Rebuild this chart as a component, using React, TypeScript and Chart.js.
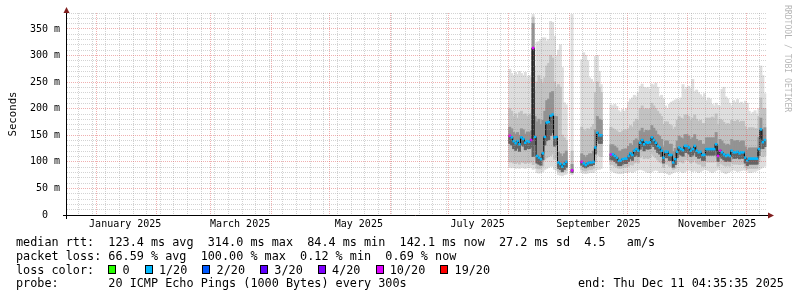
import React, { useEffect, useRef } from "react";
import { Chart, registerables } from "chart.js";

Chart.register(...registerables);

const FONT = "'DejaVu Sans Mono', monospace";

// ---------- time axis: days since 2025-01-01 00:00 ----------
const VIEW_START = -14.9; // ~ 2024-12-17
const VIEW_END = 344.63; // ~ 2025-12-11 (end of graph)
const SERIES_START = 212; // first daily sample: 2025-08-01

const monthLabels = [
  "January 2025",
  "March 2025",
  "May 2025",
  "July 2025",
  "September 2025",
  "November 2025",
];
const labelledMonths = [0, 2, 4, 6, 8, 10];

// ---------- y axis ----------
const Y_MAX = 380;
const Y_MAJOR = 50;
const Y_MINOR = 10;

// ---------- daily series (ms), null = no data ----------
const medianMs = [
  149, 146, 139, 135, 139, 133, 146, 143, 136, 139, 138, 141, 314, 147, 111, 108, 105, 116, 147, 174, 175, 187, 189, 146, 147, 99, 96, 91, 96, 100,
  null, null, 84, null, null, null, null,
  100, 97, 94, 97, 99, 99, 100, 127, 155, 150, 150,
  null, null, null, null,
  114, 114, 111, 108, 102, 102, 105, 106, 106, 111, 116, 113, 121, 124, 121,
  136, 141, 133, 137, 136, 137, 146, 141, 136, 130, 127, 121, 108,
  119, 119, 113, 113, 99, 105, 119, 127, 124, 122, 130, 130, 127, 121, 124, 130,
  121, 118, 119, 113, 113, 124, 124, 124, 124, 124, 133, 111, 121, 118, 114, 111,
  113, 111, 121, 118, 118, 119, 116, 118, 118, 108, 102, 106, 106, 106, 106, 106, 124, 161, 137, 141,
];

const lossPings = [
  10, 1, 1, 1, 1, 1, 1, 1, 1, 1, 1, 10, 10, 1, 1, 1, 1, 1, 1, 1, 1, 1, 1, 1, 1, 1, 1, 1, 1, 1,
  1, 1, 10, 1, 1, 1, 1,
  10, 1, 1, 1, 1, 1, 1, 1, 1, 1, 1,
  1, 1, 1, 1,
  10, 1, 1, 1, 1, 1, 1, 1, 1, 1, 1, 1, 1, 1, 1,
  1, 1, 1, 1, 1, 1, 1, 1, 1, 1, 1, 1, 1,
  1, 1, 1, 1, 1, 1, 1, 1, 1, 1, 1, 1, 1, 1, 1, 1,
  1, 1, 1, 1, 1, 1, 1, 1, 1, 1, 1, 10, 10, 1, 1, 1,
  1, 1, 1, 1, 1, 1, 1, 1, 1, 1, 1, 1, 1, 1, 1, 1, 1, 1, 1, 1,
];

const smokeMax = [
  274, 266, 262, 268, 264, 270, 266, 262, 268, 258, 262, 258, 377, 280, 325, 326, 330, 333, 333, 327, 330, 364, 362, 336, 300, 310, 320, 277, 211, 207,
  null, null, 377, null, null, null, null,
  292, 305, 300, 290, 258, 255, 250, 298, 300, 270, 245,
  null, null, null, null,
  207, 205, 208, 204, 196, 193, 198, 195, 200, 212, 217, 220, 225, 222, 230,
  242, 246, 240, 238, 240, 236, 246, 244, 248, 240, 222, 225, 218,
  205, 200, 208, 212, 214, 216, 218, 215, 220, 245, 236, 240, 242, 238, 255, 232,
  235, 230, 226, 222, 228, 215, 220, 218, 208, 205, 210, 206, 204, 236, 240, 222,
  218, 210, 205, 215, 212, 217, 210, 212, 208, 214, 210, 195, 190, 193, 196, 190, 200, 280, 262, 228,
];

const smokeHigh = [
  200, 195, 185, 190, 182, 192, 195, 188, 190, 185, 188, 190, 372, 235, 250, 262, 255, 248, 258, 280, 285, 300, 295, 250, 240, 245, 240, 150, 145, 140,
  null, null, 120, null, null, null, null,
  165, 160, 158, 162, 160, 165, 170, 230, 250, 240, 230,
  null, null, null, null,
  165, 162, 160, 158, 155, 155, 158, 160, 160, 162, 168, 165, 175, 180, 178,
  200, 205, 198, 200, 198, 200, 210, 205, 200, 195, 190, 185, 170,
  175, 175, 170, 168, 160, 165, 178, 185, 182, 180, 188, 188, 185, 178, 182, 188,
  180, 176, 178, 172, 172, 182, 182, 182, 184, 182, 190, 170, 180, 178, 174, 170,
  172, 170, 178, 176, 176, 178, 174, 176, 176, 166, 160, 164, 164, 164, 162, 162, 185, 220, 200, 200,
];

const coreHigh = [
  165, 162, 155, 152, 155, 150, 162, 160, 152, 156, 155, 158, 360, 185, 175, 180, 170, 178, 195, 215, 218, 230, 232, 185, 185, 118, 115, 110, 115, 120,
  null, null, 95, null, null, null, null,
  115, 112, 108, 112, 115, 115, 120, 160, 185, 180, 178,
  null, null, null, null,
  132, 132, 129, 126, 120, 120, 123, 124, 124, 129, 134, 131, 140, 143, 140,
  158, 163, 155, 159, 158, 159, 168, 163, 158, 151, 148, 142, 128,
  139, 139, 133, 133, 119, 125, 139, 148, 145, 143, 151, 151, 148, 142, 145, 151,
  142, 139, 140, 133, 133, 145, 145, 145, 145, 145, 155, 131, 142, 139, 134, 131,
  133, 131, 142, 139, 139, 140, 137, 139, 139, 128, 122, 126, 126, 126, 126, 126, 146, 182, 160, 164,
];

const coreLow = [
  135, 132, 125, 122, 126, 120, 132, 130, 123, 126, 125, 128, 110, 132, 98, 96, 94, 104, 132, 140, 142, 150, 155, 130, 132, 88, 86, 82, 86, 90,
  null, null, 80, null, null, null, null,
  94, 91, 89, 91, 93, 93, 95, 115, 140, 135, 135,
  null, null, null, null,
  104, 104, 101, 98, 93, 93, 96, 97, 97, 101, 106, 103, 110, 113, 110,
  124, 129, 121, 125, 124, 125, 133, 129, 124, 118, 115, 110, 98,
  108, 108, 103, 103, 90, 95, 108, 115, 113, 111, 118, 118, 115, 110, 113, 118,
  110, 107, 108, 103, 103, 113, 113, 113, 113, 113, 121, 101, 110, 107, 104, 101,
  103, 101, 110, 107, 107, 108, 106, 107, 107, 98, 93, 96, 96, 96, 96, 96, 112, 145, 125, 129,
];

const smokeLow = [
  100, 100, 98, 97, 99, 96, 100, 99, 97, 99, 98, 100, 95, 105, 88, 87, 88, 92, 105, 108, 110, 112, 115, 105, 108, 82, 81, 80, 82, 84,
  null, null, 79, null, null, null, null,
  86, 84, 83, 85, 86, 86, 88, 100, 115, 112, 110,
  null, null, null, null,
  95, 95, 92, 90, 88, 88, 89, 90, 90, 92, 95, 94, 98, 100, 98,
  108, 112, 106, 108, 106, 108, 115, 112, 108, 104, 100, 98, 90,
  96, 96, 92, 92, 86, 88, 96, 102, 100, 98, 104, 104, 102, 98, 100, 104,
  98, 96, 96, 92, 92, 100, 100, 100, 100, 100, 106, 92, 98, 96, 94, 92,
  94, 92, 98, 96, 96, 96, 95, 96, 96, 90, 87, 88, 88, 88, 88, 88, 100, 120, 110, 112,
];

const smokeMin = [
  90, 89, 90, 88, 89, 88, 90, 89, 88, 90, 89, 90, 86, 88, 80, 79, 80, 82, 86, 88, 90, 92, 92, 86, 84, 76, 75, 74, 76, 77,
  null, null, 76, null, null, null, null,
  80, 79, 78, 79, 80, 80, 80, 84, 86, 86, 88,
  null, null, null, null,
  84, 82, 80, 79, 78, 78, 79, 80, 80, 81, 82, 80, 82, 84, 85,
  86, 85, 84, 82, 80, 80, 82, 84, 85, 84, 80, 82, 80,
  80, 78, 76, 78, 80, 82, 82, 84, 82, 80, 82, 84, 85, 84, 82, 84,
  82, 80, 82, 84, 86, 85, 84, 82, 80, 82, 84, 86, 85, 82, 80, 78,
  80, 82, 84, 85, 84, 82, 83, 84, 85, 84, 84, 80, 80, 82, 82, 84, 86, 88, 90, 92,
];

// ---------- legend ----------
const rttLine = "median rtt:  123.4 ms avg  314.0 ms max  84.4 ms min  142.1 ms now  27.2 ms sd  4.5   am/s";
const lossLine = "packet loss: 66.59 % avg  100.00 % max  0.12 % min  0.69 % now";
const lossColorTitle = "loss color:";
const lossLegendLabels = ["0", "1/20", "2/20", "3/20", "4/20", "10/20", "19/20"];
const lossLegendPings = [0, 1, 2, 3, 4, 10, 19];
const probeLine = "probe:       20 ICMP Echo Pings (1000 Bytes) every 300s";
const endLine = "end: Thu Dec 11 04:35:35 2025";
const yTitle = "Seconds";
const watermark = "RRDTOOL / TOBI OETIKER";

const LOSS_COLORS: Record<number, string> = {
  0: "#26ff00",
  1: "#00b8ff",
  2: "#0059ff",
  3: "#5e00ff",
  4: "#7e00ff",
  10: "#dd00ff",
  19: "#ff0000",
};

const GRID_MINOR = "rgba(150,150,150,0.42)";
const GRID_MAJOR = "rgba(222,79,79,0.45)";

// ---------- derived ticks ----------
const DAY = 86400000;
const base = Date.UTC(2025, 0, 1);
const monthStarts: number[] = [];
for (let m = -1; m < 12; m++) {
  const d = (Date.UTC(2025, m, 1) - base) / DAY;
  if (d >= VIEW_START && d <= VIEW_END) monthStarts.push(d);
}
const firstMonday = (Date.UTC(2025, 0, 6) - base) / DAY;
const mondays: number[] = [];
for (let d = firstMonday - 28; d <= VIEW_END; d += 7) {
  if (d >= VIEW_START) mondays.push(d);
}
const labelTicks = new Map<number, string>();
labelledMonths.forEach((m, i) => {
  const d = (Date.UTC(2025, m, 1) - base) / DAY + 15;
  labelTicks.set(d, monthLabels[i]);
});
const monthSet = new Set(monthStarts);
const xTickValues = Array.from(new Set([...monthStarts, ...mondays, ...labelTicks.keys()])).sort((a, b) => a - b);
const yTickValues: number[] = [];
for (let v = 0; v <= Y_MAX; v += Y_MINOR) yTickValues.push(v);

function band(lo: (number | null)[], hi: (number | null)[]) {
  const out: { x: number; y: [number, number] }[] = [];
  lo.forEach((l, i) => {
    const h = hi[i];
    if (l != null && h != null) out.push({ x: SERIES_START + i + 0.5, y: [Math.min(l, h), Math.max(l, h)] });
  });
  return out;
}

const overlayPlugin = {
  id: "rrdOverlay",
  afterDraw(chart: any) {
    const ctx: CanvasRenderingContext2D = chart.ctx;
    const { left, right, top, bottom } = chart.chartArea;
    ctx.save();
    // axes
    ctx.strokeStyle = "#000";
    ctx.lineWidth = 1;
    ctx.setLineDash([]);
    ctx.beginPath();
    ctx.moveTo(left - 4, bottom + 0.5);
    ctx.lineTo(right + 1, bottom + 0.5);
    ctx.stroke();
    ctx.beginPath();
    ctx.moveTo(left - 0.5, bottom + 4);
    ctx.lineTo(left - 0.5, top);
    ctx.stroke();
    // arrows
    ctx.fillStyle = "#801f1f";
    ctx.beginPath();
    ctx.moveTo(right + 1, bottom + 0.5 - 3);
    ctx.lineTo(right + 7, bottom + 0.5);
    ctx.lineTo(right + 1, bottom + 0.5 + 3);
    ctx.closePath();
    ctx.fill();
    ctx.beginPath();
    ctx.moveTo(left - 0.5 - 3, top);
    ctx.lineTo(left - 0.5, top - 6);
    ctx.lineTo(left - 0.5 + 3, top);
    ctx.closePath();
    ctx.fill();

    // y title
    ctx.fillStyle = "#000";
    ctx.font = `10.7px ${FONT}`;
    ctx.textAlign = "center";
    ctx.textBaseline = "alphabetic";
    ctx.save();
    ctx.translate(15.5, 114);
    ctx.rotate(-Math.PI / 2);
    ctx.fillText(yTitle, 0, 0);
    ctx.restore();

    // watermark
    ctx.save();
    ctx.fillStyle = "rgba(0,0,0,0.3)";
    ctx.font = `8.1px ${FONT}`;
    ctx.textAlign = "left";
    ctx.translate(785, 5);
    ctx.rotate(Math.PI / 2);
    ctx.fillText(watermark, 0, 0);
    ctx.restore();

    // legend
    ctx.fillStyle = "#000";
    ctx.font = `11.8px ${FONT}`;
    ctx.textAlign = "left";
    ctx.fillText(rttLine, 16, 246);
    ctx.fillText(lossLine, 16, 259.8);
    ctx.fillText(lossColorTitle, 16, 273.6);
    let x = 108.3;
    lossLegendLabels.forEach((label, i) => {
      const bx = Math.round(x);
      ctx.fillStyle = LOSS_COLORS[lossLegendPings[i]];
      ctx.fillRect(bx, 265, 8, 9);
      ctx.strokeStyle = "#000";
      ctx.strokeRect(bx + 0.5, 265.5, 7, 8);
      ctx.fillStyle = "#000";
      const lx = x + 14.2;
      ctx.fillText(label, lx, 273.6);
      x = lx + ctx.measureText(label).width + 15.1;
    });
    ctx.fillText(probeLine, 16, 287.4);
    ctx.fillText(endLine, 578, 287.4);
    ctx.restore();
  },
};

export default function App() {
  const ref = useRef<HTMLCanvasElement>(null);
  useEffect(() => {
    document.body.style.margin = "0";
    const canvas = ref.current!;
    const medianData = medianMs.map((v, i) => ({ x: SERIES_START + i + 0.5, y: v }));
    const pointColors = lossPings.map((l) => LOSS_COLORS[l] || LOSS_COLORS[1]);
    const barCommon = {
      type: "bar" as const,
      grouped: false,
      borderWidth: 0,
      barPercentage: 1,
      categoryPercentage: 1,
      inflateAmount: 0.5,
    };
    const chart = new Chart(canvas, {
      type: "line",
      data: {
        datasets: [
          {
            type: "line",
            label: "median",
            data: medianData as any,
            borderColor: "#000",
            borderWidth: 1,
            stepped: "middle",
            spanGaps: false,
            pointStyle: "rect",
            pointRadius: 1.8,
            pointBorderWidth: 0,
            pointBackgroundColor: pointColors,
            order: 0,
          },
          { ...barCommon, label: "below median", data: band(coreLow, medianMs) as any, backgroundColor: "#646464", order: 1 },
          { ...barCommon, label: "core", data: band(coreLow, coreHigh) as any, backgroundColor: "#939393", order: 2 },
          { ...barCommon, label: "mid", data: band(smokeLow, smokeHigh) as any, backgroundColor: "#c2c2c2", order: 3 },
          { ...barCommon, label: "outer", data: band(smokeMin, smokeMax) as any, backgroundColor: "#dedede", order: 4 },
        ] as any,
      },
      options: {
        animation: false,
        responsive: false,
        devicePixelRatio: 1,
        events: [],
        layout: { autoPadding: false, padding: { left: 0, right: 30, top: 13, bottom: 0 } },
        plugins: { legend: { display: false }, tooltip: { enabled: false }, title: { display: false } },
        scales: {
          x: {
            type: "linear",
            min: VIEW_START,
            max: VIEW_END,
            offset: false,
            grid: {
              offset: false,
              drawTicks: false,
              z: 1,
              lineWidth: 1,
              color: (c: any) => {
                const v = c.tick ? c.tick.value : null;
                if (v == null) return GRID_MINOR;
                if (monthSet.has(v)) return GRID_MAJOR;
                if (labelTicks.has(v) && !mondays.includes(v)) return "rgba(0,0,0,0)";
                return GRID_MINOR;
              },
            },
            border: { display: false, dash: [1, 1] },
            ticks: {
              autoSkip: false,
              maxRotation: 0,
              minRotation: 0,
              padding: 3,
              color: "#000",
              font: { family: FONT, size: 10 },
              callback: (v: any) => labelTicks.get(Number(v)) || "",
            },
            afterBuildTicks: (scale: any) => {
              scale.ticks = xTickValues.map((v) => ({ value: v }));
            },
            afterFit: (scale: any) => {
              scale.height = 82;
            },
          } as any,
          y: {
            type: "linear",
            min: 0,
            max: Y_MAX,
            grid: {
              drawTicks: false,
              z: 1,
              lineWidth: 1,
              color: (c: any) => {
                const v = c.tick ? c.tick.value : 0;
                return v % Y_MAJOR === 0 ? GRID_MAJOR : GRID_MINOR;
              },
            },
            border: { display: false, dash: [1, 1] },
            ticks: {
              autoSkip: false,
              padding: 7,
              color: "#000",
              font: { family: FONT, size: 10 },
              callback: (v: any) => {
                const n = Number(v);
                if (n % Y_MAJOR !== 0) return "";
                return n === 0 ? "0  " : `${n} m`;
              },
            },
            afterBuildTicks: (scale: any) => {
              scale.ticks = yTickValues.map((v) => ({ value: v }));
            },
            afterFit: (scale: any) => {
              scale.width = 67;
            },
          } as any,
        },
      },
      plugins: [overlayPlugin],
    } as any);
    return () => chart.destroy();
  }, []);
  return (
    <div style={{ width: 797, height: 297, background: "#fff" }}>
      <canvas ref={ref} width={797} height={297} style={{ display: "block", width: 797, height: 297 }} />
    </div>
  );
}
